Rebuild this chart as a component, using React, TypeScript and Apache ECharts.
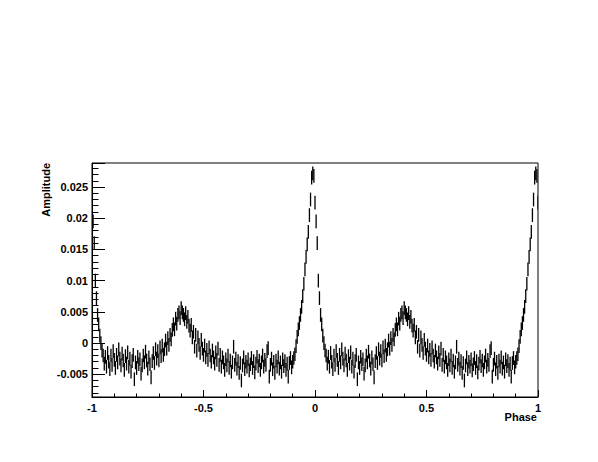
import { useEffect, useRef } from "react";
import * as echarts from "echarts";

// One pulse period: bins centred at phase 0.000, 0.005, ..., 0.995
const periodValues: number[] = [
  0.0225, 0.0195, 0.0160, 0.0100, 0.0072, 0.0045, 0.0030, 0.0012, 0.0000, -0.0012,
  -0.0020, -0.0033, -0.0022, -0.0038, -0.0016, -0.0030, -0.0042, -0.0020, -0.0035, -0.0013,
  -0.0027, -0.0040, -0.0019, -0.0031, -0.0010, -0.0025, -0.0036, -0.0017, -0.0028, -0.0043,
  -0.0021, -0.0033, -0.0015, -0.0038, -0.0025, -0.0046, -0.0029, -0.0019, -0.0058, -0.0031,
  -0.0040, -0.0022, -0.0034, -0.0026, -0.0049, -0.0036, -0.0020, -0.0031, -0.0014, -0.0028,
  -0.0041, -0.0023, -0.0034, -0.0055, -0.0029, -0.0016, -0.0032, -0.0010, -0.0025, -0.0013,
  -0.0028, -0.0007, -0.0021, -0.0004, -0.0019, -0.0010, 0.0004, -0.0009, 0.0008, -0.0003,
  0.0013, 0.0006, 0.0021, 0.0030, 0.0022, 0.0039, 0.0031, 0.0045, 0.0049, 0.0040,
  0.0056, 0.0049, 0.0045, 0.0038, 0.0048, 0.0034, 0.0042, 0.0028, 0.0020, 0.0029,
  0.0009, 0.0018, -0.0006, 0.0013, -0.0012, 0.0009, -0.0003, -0.0016, 0.0005, -0.0009,
  -0.0019, -0.0004, -0.0023, -0.0011, -0.0027, -0.0007, -0.0020, -0.0030, -0.0012, -0.0023,
  -0.0033, -0.0015, -0.0027, -0.0009, -0.0035, -0.0019, -0.0038, -0.0023, -0.0031, -0.0043,
  -0.0026, -0.0036, -0.0020, -0.0040, -0.0028, -0.0046, -0.0031, -0.0006, -0.0035, -0.0025,
  -0.0041, -0.0029, -0.0048, -0.0032, -0.0060, -0.0036, -0.0023, -0.0042, -0.0030, -0.0038,
  -0.0026, -0.0044, -0.0034, -0.0024, -0.0040, -0.0029, -0.0047, -0.0033, -0.0022, -0.0037,
  -0.0028, -0.0043, -0.0031, -0.0020, -0.0038, -0.0027, -0.0035, -0.0013, -0.0008, -0.0054,
  -0.0035, -0.0025, -0.0042, -0.0030, -0.0048, -0.0028, -0.0038, -0.0023, -0.0041, -0.0031,
  -0.0046, -0.0026, -0.0037, -0.0029, -0.0043, -0.0033, -0.0054, -0.0032, -0.0024, -0.0039,
  -0.0030, -0.0024, -0.0018, -0.0005, 0.0010, 0.0022, 0.0032, 0.0045, 0.0058, 0.0075,
  0.0095, 0.0118, 0.0138, 0.0158, 0.0178, 0.0205, 0.0230, 0.0265, 0.0272, 0.0268,
];
const binWidth = 0.005;
const binErrorHalf = 0.0011;
const cycles = [-1, 0]; // the period is shown twice, from phase -1 to 1
const xRange = [-1, 1];
const yRange = [-0.00865, 0.02885];

export default function App() {
  const ref = useRef<HTMLDivElement>(null);
  useEffect(() => {
    if (!ref.current) return;
    const chart = echarts.init(ref.current, null, { renderer: "svg" });
    const points: number[][] = [];
    cycles.forEach((c) => {
      periodValues.forEach((v, i) => {
        points.push([c + i * binWidth, v, binErrorHalf]);
      });
    });
    // closing bin at phase +1 (same bin as phase 0)
    points.push([1, periodValues[0], binErrorHalf]);

    const font = { fontFamily: "Liberation Sans, Arial, sans-serif", fontWeight: "bold" as const, fontSize: 11, color: "#000" };

    chart.setOption({
      animation: false,
      grid: { left: 92, right: 60, top: 163, bottom: 65, show: true, borderColor: "#000", borderWidth: 1, backgroundColor: "transparent" },
      xAxis: {
        type: "value",
        min: xRange[0],
        max: xRange[1],
        interval: 0.5,
        axisLine: { onZero: false, lineStyle: { color: "#000", width: 1 } },
        axisTick: { inside: true, length: 7, lineStyle: { color: "#000" } },
        minorTick: { show: true, splitNumber: 5, length: 3.5, lineStyle: { color: "#000" } },
        splitLine: { show: false },
        axisLabel: { ...font, margin: 5, formatter: (v: number) => String(v) },
      },
      yAxis: {
        type: "value",
        min: yRange[0],
        max: yRange[1],
        splitNumber: 7,
        axisLine: { show: true, onZero: false, lineStyle: { color: "#000", width: 1 } },
        axisTick: { inside: true, length: 13, lineStyle: { color: "#000" } },
        minorTick: { show: true, splitNumber: 5, length: 6.5, lineStyle: { color: "#000" } },
        splitLine: { show: false },
        axisLabel: { ...font, margin: 4, showMinLabel: false, showMaxLabel: false, formatter: (v: number) => String(Math.round(v * 1000) / 1000) },
      },
      graphic: [
        { type: "text", x: 537, y: 417, style: { text: "Phase", align: "right", verticalAlign: "middle", font: "bold 11px 'Liberation Sans', Arial, sans-serif", fill: "#000" } },
        { type: "text", x: 45.5, y: 163, rotation: Math.PI / 2, style: { text: "Amplitude", align: "right", verticalAlign: "middle", font: "bold 11px 'Liberation Sans', Arial, sans-serif", fill: "#000" } },
      ],
      series: [
        {
          type: "custom",
          clip: true,
          data: points,
          encode: { x: 0, y: 1 },
          renderItem: (params: any, api: any) => {
            const x = api.value(0);
            const y = api.value(1);
            const e = api.value(2);
            const p1 = api.coord([x, y - e]);
            const p2 = api.coord([x, y + e]);
            return {
              type: "line",
              shape: { x1: p1[0], y1: p1[1], x2: p2[0], y2: p2[1] },
              style: { stroke: "#000", lineWidth: 1.3 },
            };
          },
        },
      ],
    });
    return () => chart.dispose();
  }, []);
  return <div ref={ref} style={{ width: 598, height: 462, position: "absolute", left: 0, top: 0 }} />;
}
